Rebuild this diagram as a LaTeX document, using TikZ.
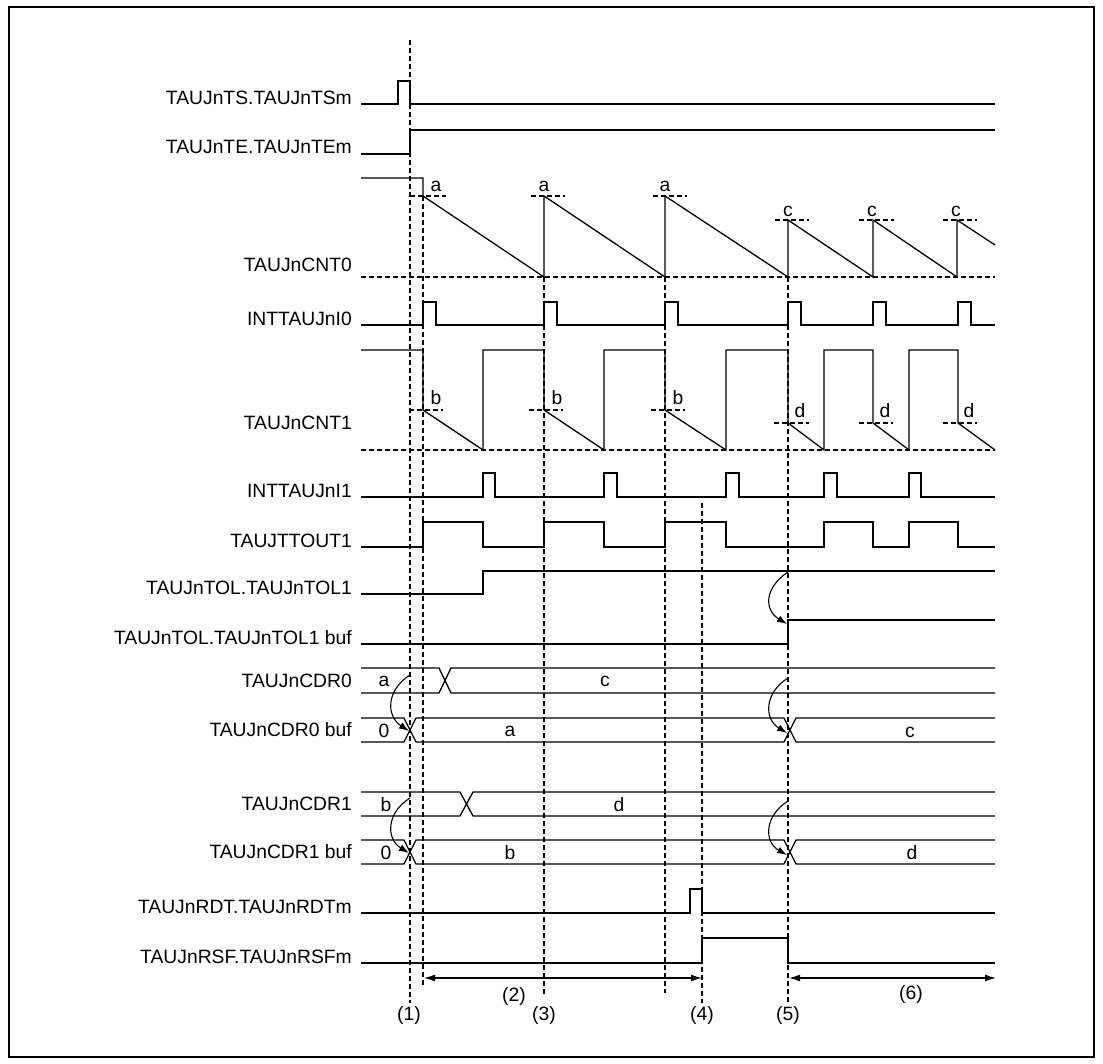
\documentclass[tikz,border=0pt]{standalone}
\usepackage{fontspec}
\setmainfont{Liberation Sans}
\usetikzlibrary{arrows.meta}
\begin{document}
\begin{tikzpicture}[x=1pt,y=-1pt,
 sig/.style={line width=1.3pt, line join=miter},
 grid/.style={line width=1.1pt, dash pattern=on 5pt off 3pt},
 lbl/.style={font=\fontsize{19.3}{23}\selectfont, inner sep=0pt},
 sname/.style={lbl, anchor=east},
 curv/.style={line width=1.1pt, -{Latex[length=10pt,width=7pt]}},
 dim/.style={line width=1.3pt, {Latex[length=11pt,width=7pt]}-{Latex[length=11pt,width=7pt]}}]
\useasboundingbox (0,0) rectangle (1103,1064);
\draw[line width=2pt] (9,7) rectangle (1094,1057);

% signal names
\node[sname] (nTS) at (352,98) {TAUJnTS.TAUJnTSm};
\node[sname] (nTE) at (352,147) {TAUJnTE.TAUJnTEm};
\node[sname] (nC0) at (352,265) {TAUJnCNT0};
\node[sname] (nI0) at (352,319) {INTTAUJnI0};
\node[sname] (nC1) at (352,423) {TAUJnCNT1};
\node[sname] (nI1) at (352,491) {INTTAUJnI1};
\node[sname] (nTO) at (352,541) {TAUJTTOUT1};
\node[sname] (nTL) at (352,588) {TAUJnTOL.TAUJnTOL1};
\node[sname] (nTB) at (352,638) {TAUJnTOL.TAUJnTOL1 buf};
\node[sname] (nD0) at (352,681) {TAUJnCDR0};
\node[sname] (nB0) at (352,730) {TAUJnCDR0 buf};
\node[sname] (nD1) at (352,804) {TAUJnCDR1};
\node[sname] (nB1) at (352,852) {TAUJnCDR1 buf};
\node[sname] (nRD) at (352,907) {TAUJnRDT.TAUJnRDTm};
\node[sname] (nRS) at (352,957) {TAUJnRSF.TAUJnRSFm};

% dashed time markers
\draw[grid] (410,40) -- (410,1003);
\draw[grid] (423,196) -- (423,987);
\draw[grid] (544,277) -- (544,997);
\draw[grid] (665,277) -- (665,993);
\draw[grid] (702,503) -- (702,1003);
\draw[grid] (788,277) -- (788,1003);

% dashed levels
\draw[grid] (361,277) -- (995,277);
\draw[grid] (361,450) -- (995,450);
\draw[grid] (410,196) -- (446,196);
\draw[grid] (531,196) -- (565,196);
\draw[grid] (653,196) -- (687,196);
\draw[grid] (775,220) -- (809,220);
\draw[grid] (859,220) -- (894,220);
\draw[grid] (943,220) -- (977,220);
\draw[grid] (409,410) -- (443,410);
\draw[grid] (529,410) -- (563,410);
\draw[grid] (651,410) -- (685,410);
\draw[grid] (774,423) -- (809,423);
\draw[grid] (859,423) -- (893,423);
\draw[grid] (943,423) -- (977,423);

% level labels
\node[lbl] (la1) at (436,186) {a};
\node[lbl] (la2) at (544,186) {a};
\node[lbl] (la3) at (665,186) {a};
\node[lbl] (lc1) at (788,211) {c};
\node[lbl] (lc2) at (872,211) {c};
\node[lbl] (lc3) at (956,211) {c};
\node[lbl] (lb1) at (436,398) {b};
\node[lbl] (lb2) at (557,398) {b};
\node[lbl] (lb3) at (678,398) {b};
\node[lbl] (ld1) at (800,411) {d};
\node[lbl] (ld2) at (885,411) {d};
\node[lbl] (ld3) at (969,411) {d};

% waveforms
\draw[sig] (361,104) -- (398,104) -- (398,81) -- (410,81) -- (410,104) -- (995,104);
\draw[sig] (361,154) -- (410,154) -- (410,130) -- (995,130);
\draw[sig] (361,178) -- (423,178) -- (423,196) -- (544,277) -- (544,196) -- (665,277) -- (665,196) -- (788,277) -- (788,220) -- (873,277) -- (873,220) -- (957,277) -- (957,220) -- (995,245);
\draw[sig] (361,325) -- (423,325) -- (423,302) -- (436,302) -- (436,325) -- (544,325) -- (544,302) -- (557,302) -- (557,325) -- (665,325) -- (665,302) -- (678,302) -- (678,325) -- (788,325) -- (788,302) -- (801,302) -- (801,325) -- (873,325) -- (873,302) -- (886,302) -- (886,325) -- (958,325) -- (958,302) -- (971,302) -- (971,325) -- (995,325);
\draw[sig] (361,350) -- (423,350) -- (423,410) -- (483,450) -- (483,350) -- (544,350) -- (544,410) -- (604,450) -- (604,350) -- (665,350) -- (665,410) -- (726,450) -- (726,350) -- (788,350) -- (788,423) -- (824,450) -- (824,350) -- (873,350) -- (873,423) -- (909,450) -- (909,350) -- (958,350) -- (958,423) -- (995,450);
\draw[sig] (361,497) -- (483,497) -- (483,473) -- (495,473) -- (495,497) -- (604,497) -- (604,473) -- (617,473) -- (617,497) -- (726,497) -- (726,473) -- (739,473) -- (739,497) -- (824,497) -- (824,473) -- (837,473) -- (837,497) -- (909,497) -- (909,473) -- (921,473) -- (921,497) -- (995,497);
\draw[sig] (361,547) -- (423,547) -- (423,522) -- (483,522) -- (483,547) -- (544,547) -- (544,522) -- (604,522) -- (604,547) -- (665,547) -- (665,522) -- (726,522) -- (726,547) -- (824,547) -- (824,522) -- (873,522) -- (873,547) -- (909,547) -- (909,522) -- (958,522) -- (958,547) -- (995,547);
\draw[sig] (361,594) -- (483,594) -- (483,571) -- (995,571);
\draw[sig] (361,644) -- (788,644) -- (788,620) -- (995,620);

% buses
\draw[sig] (361,668) -- (439,668) -- (451,693) -- (995,693);
\draw[sig] (361,693) -- (439,693) -- (451,668) -- (995,668);
\draw[sig] (361,718) -- (404,718) -- (416,742) -- (784,742) -- (796,718) -- (995,718);
\draw[sig] (361,742) -- (404,742) -- (416,718) -- (784,718) -- (796,742) -- (995,742);
\draw[sig] (361,792) -- (460,792) -- (473,816) -- (995,816);
\draw[sig] (361,816) -- (460,816) -- (473,792) -- (995,792);
\draw[sig] (361,840) -- (404,840) -- (416,864) -- (784,864) -- (796,840) -- (995,840);
\draw[sig] (361,864) -- (404,864) -- (416,840) -- (784,840) -- (796,864) -- (995,864);

\node[lbl] (v1) at (384,681) {a};
\node[lbl] (v2) at (605,681) {c};
\node[lbl] (v3) at (384,731) {0};
\node[lbl] (v4) at (510,731) {a};
\node[lbl] (v5) at (910,732) {c};
\node[lbl] (v6) at (386,805) {b};
\node[lbl] (v7) at (619,805) {d};
\node[lbl] (v8) at (386,853) {0};
\node[lbl] (v9) at (510,853) {b};
\node[lbl] (v10) at (912,853) {d};

% reload arrows
\draw[curv] (788,572) .. controls (764,588) and (764,610) .. (787,624);
\draw[curv] (410,675) .. controls (386,690) and (386,716) .. (409,731);
\draw[curv] (788,678) .. controls (764,693) and (764,719) .. (787,733);
\draw[curv] (410,798) .. controls (386,813) and (386,839) .. (409,853);
\draw[curv] (788,801) .. controls (764,816) and (764,842) .. (787,855);

\draw[sig] (361,913) -- (690,913) -- (690,889) -- (702,889) -- (702,913) -- (995,913);
\draw[sig] (361,963) -- (702,963) -- (702,938) -- (788,938) -- (788,963) -- (995,963);

% period arrows
\coordinate (p2a) at (424,978);
\coordinate (p2b) at (702,978);
\coordinate (p6a) at (789,978);
\coordinate (p6b) at (996,978);
\draw[dim] (p2a) -- (p2b);
\draw[dim] (p6a) -- (p6b);

\node[lbl] (t1) at (409,1015) {(1)};
\node[lbl] (t2) at (514,996) {(2)};
\node[lbl] (t3) at (544,1015) {(3)};
\node[lbl] (t4) at (702,1015) {(4)};
\node[lbl] (t5) at (788,1015) {(5)};
\node[lbl] (t6) at (911,994) {(6)};
\end{tikzpicture}
\end{document}
